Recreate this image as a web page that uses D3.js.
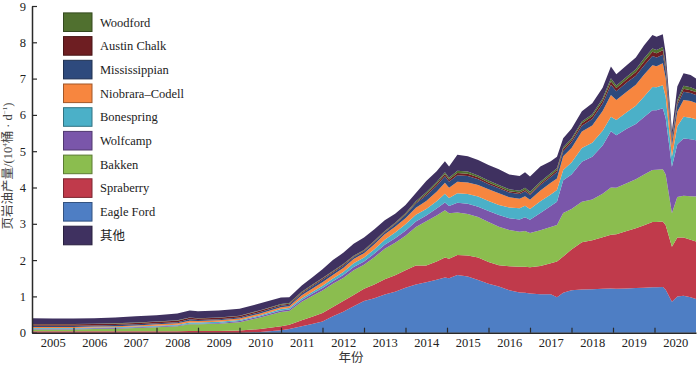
<!DOCTYPE html>
<html><head><meta charset="utf-8">
<script src="https://cdn.jsdelivr.net/npm/d3@7"></script>
<style>
body{margin:0;background:#fff;}
svg text{font-family:"Liberation Serif","Times New Roman","DejaVu Serif","Noto Sans CJK SC",serif !important;}
</style></head>
<body><svg id="c" width="700" height="366"></svg>
<script>
// decimal-year dates
const dates = [2005.0,2005.5,2006.0,2006.5,2007.0,2007.5,2008.0,2008.5,2008.8,2009.0,2009.5,2010.0,2010.5,2011.0,2011.2,2011.5,2011.75,2012.0,2012.25,2012.5,2012.75,2013.0,2013.25,2013.5,2013.75,2014.0,2014.25,2014.5,2014.75,2014.95,2015.05,2015.25,2015.5,2015.75,2016.0,2016.25,2016.5,2016.75,2016.88,2017.0,2017.25,2017.5,2017.65,2017.8,2018.0,2018.25,2018.5,2018.75,2018.95,2019.08,2019.33,2019.55,2019.75,2019.95,2020.05,2020.2,2020.27,2020.42,2020.55,2020.7,2020.87,2021.0];

const eagleFord   = [0,0,0,0,0,0,0,0,0,0,0,0,.02,.07,.10,.18,.24,.31,.45,.58,.73,.87,.95,1.05,1.13,1.24,1.33,1.39,1.46,1.52,1.50,1.59,1.55,1.45,1.35,1.27,1.17,1.11,1.10,1.08,1.06,1.06,.98,1.10,1.17,1.19,1.20,1.21,1.22,1.21,1.22,1.23,1.24,1.25,1.25,1.26,1.18,.85,1.00,1.02,.98,.93];
const spraberry   = [.04,.04,.04,.04,.04,.04,.04,.04,.05,.05,.05,.06,.08,.11,.12,.16,.20,.23,.26,.29,.31,.34,.38,.42,.45,.48,.52,.46,.50,.55,.54,.55,.58,.62,.60,.59,.66,.71,.72,.72,.78,.85,.98,1.00,1.12,1.30,1.35,1.42,1.48,1.50,1.58,1.65,1.72,1.80,1.80,1.80,1.78,1.52,1.62,1.60,1.58,1.58];
const bakken      = [.05,.05,.05,.06,.07,.09,.11,.14,.18,.18,.20,.23,.32,.39,.38,.51,.57,.62,.64,.64,.68,.66,.75,.84,.90,.95,1.06,1.22,1.27,1.30,1.25,1.17,1.14,1.12,1.10,1.06,1.00,.96,.98,.95,.98,1.00,1.01,1.20,1.12,1.12,1.12,1.20,1.30,1.28,1.32,1.35,1.40,1.43,1.44,1.44,1.40,.92,1.12,1.15,1.20,1.24];
const wolfcamp    = [.02,.02,.02,.02,.02,.02,.02,.02,.02,.02,.02,.03,.03,.04,.04,.05,.06,.07,.07,.08,.09,.09,.10,.11,.12,.14,.15,.16,.19,.22,.20,.27,.28,.28,.30,.32,.32,.34,.38,.36,.48,.58,.64,.90,.95,1.10,1.18,1.33,1.55,1.45,1.50,1.52,1.58,1.65,1.64,1.68,1.55,1.28,1.45,1.58,1.57,1.55];
const bonespring  = [.02,.02,.02,.02,.02,.02,.02,.02,.03,.03,.03,.03,.03,.04,.04,.05,.05,.06,.07,.08,.10,.11,.12,.14,.16,.18,.19,.18,.20,.24,.22,.26,.27,.28,.28,.28,.30,.31,.32,.30,.32,.32,.32,.28,.33,.38,.38,.40,.40,.42,.45,.50,.57,.64,.63,.64,.58,.28,.50,.60,.59,.58];
const niobrara    = [.03,.03,.03,.03,.03,.03,.04,.04,.05,.04,.04,.04,.05,.05,.05,.08,.09,.10,.10,.11,.12,.12,.14,.15,.16,.16,.19,.22,.26,.30,.28,.32,.32,.32,.32,.32,.28,.26,.26,.25,.30,.32,.32,.38,.40,.45,.48,.55,.60,.55,.57,.58,.60,.60,.58,.60,.52,.30,.40,.46,.46,.45];
const mississippian=[.03,.03,.03,.03,.03,.03,.03,.03,.04,.03,.03,.03,.04,.04,.04,.05,.06,.07,.06,.06,.05,.05,.05,.05,.07,.09,.12,.15,.17,.18,.17,.18,.18,.16,.14,.14,.13,.13,.14,.13,.15,.16,.18,.14,.15,.16,.18,.20,.28,.24,.25,.25,.25,.25,.24,.24,.21,.13,.18,.23,.22,.22];
const austinChalk = [.04,.04,.04,.04,.04,.04,.04,.04,.04,.04,.04,.04,.04,.03,.03,.03,.03,.03,.03,.03,.02,.02,.02,.02,.02,.02,.03,.04,.05,.06,.06,.06,.06,.05,.05,.04,.04,.04,.04,.04,.04,.05,.05,.06,.06,.07,.07,.08,.10,.09,.09,.10,.11,.12,.12,.12,.10,.05,.07,.08,.08,.08];
const woodford    = [.01,.01,.01,.01,.01,.01,.01,.01,.01,.01,.01,.01,.01,.02,.02,.02,.02,.02,.02,.02,.02,.02,.02,.02,.02,.03,.03,.05,.05,.05,.05,.06,.06,.05,.05,.05,.05,.05,.05,.05,.05,.05,.05,.05,.05,.05,.06,.06,.08,.07,.07,.08,.09,.09,.09,.09,.08,.04,.07,.08,.08,.07];
const other       = [.16,.15,.15,.15,.16,.17,.17,.19,.19,.19,.19,.19,.19,.18,.16,.17,.20,.24,.30,.31,.33,.34,.32,.30,.25,.23,.23,.31,.30,.30,.31,.44,.42,.43,.43,.43,.41,.41,.43,.42,.42,.33,.32,.25,.27,.28,.30,.30,.32,.31,.32,.32,.36,.37,.36,.35,.30,.18,.37,.35,.34,.30];

const seriesNames = ["Eagle Ford","Spraberry","Bakken","Wolfcamp","Bonespring","Niobrara–Codell","Mississippian","Austin Chalk","Woodford","其他"];
const seriesValues = [eagleFord,spraberry,bakken,wolfcamp,bonespring,niobrara,mississippian,austinChalk,woodford,other];
const seriesColors = ["#4e7ec4","#c03a4b","#8bbd4f","#7a56aa","#4bb0c8","#f7863f","#2e4a7d","#6e1e22","#50702f","#3f3160"];
const legendOrder = ["Woodford","Austin Chalk","Mississippian","Niobrara–Codell","Bonespring","Wolfcamp","Bakken","Spraberry","Eagle Ford","其他"];
const yTicks = [0,1,2,3,4,5,6,7,8,9];
const xYears = [2005,2006,2007,2008,2009,2010,2011,2012,2013,2014,2015,2016,2017,2018,2019,2020];

const FONT = '"Liberation Serif","Times New Roman","DejaVu Serif","Noto Sans CJK SC",serif';
const rows = dates.map((d,i)=>{const r={date:d};seriesNames.forEach((n,j)=>r[n]=seriesValues[j][i]);return r;});

const svg = d3.select("#c");
const x = d3.scaleLinear().domain([2005,2021]).range([32,696]);
const y = d3.scaleLinear().domain([0,9]).range([332.7,6]);
const color = d3.scaleOrdinal().domain(seriesNames).range(seriesColors);

const stack = d3.stack().keys(seriesNames);
const layers = stack(rows);
const area = d3.area().x(d=>x(d.data.date)).y0(d=>y(d[0])).y1(d=>y(d[1]));
svg.append("g").selectAll("path").data(layers).join("path")
  .attr("d",area).attr("fill",d=>color(d.key));

// y axis
const ya = svg.append("g").attr("transform","translate(32,0)")
  .call(d3.axisLeft(y).tickValues(yTicks).tickFormat(d3.format("d")).tickSizeInner(-5).tickSizeOuter(0).tickPadding(6));
// x axis ticks (inward, at year boundaries)
const xt = svg.append("g").attr("transform","translate(0,332.7)")
  .call(d3.axisBottom(x).tickValues(xYears.slice(1)).tickFormat("").tickSizeInner(-5).tickSizeOuter(0));
// x labels centred in each year
const xl = svg.append("g").attr("transform","translate(0,332.7)")
  .call(d3.axisBottom(x).tickValues(xYears.map(v=>v+0.5)).tickFormat(d=>String(Math.floor(d))).tickSize(0).tickPadding(5));
xl.select(".domain").remove();
[ya,xt,xl].forEach(g=>{
  g.attr("font-family",FONT);
  g.selectAll("text").attr("font-size",12.5).attr("fill","#222");
  g.selectAll("line").attr("stroke","#2a2a2a").attr("stroke-width",1.2);
  g.select(".domain").attr("stroke","#2a2a2a").attr("stroke-width",1.5);
});

// axis titles
svg.append("text").attr("x",351).attr("y",362).attr("text-anchor","middle")
  .attr("font-family",FONT).attr("font-size",12.5).attr("fill","#333").text("年份");
const yt = svg.append("text").attr("transform","translate(12,166) rotate(-90)")
  .attr("font-family",FONT).attr("text-anchor","middle").attr("font-size",12.5).attr("fill","#444");
yt.append("tspan").text("页岩油产量/(10");
yt.append("tspan").attr("font-size",7).attr("dy",-5).text("4");
yt.append("tspan").attr("dy",5).text("桶 · d");
yt.append("tspan").attr("font-size",7).attr("dy",-5).text("−1");
yt.append("tspan").attr("dy",5).text(")");

// legend
const lg = svg.append("g").attr("font-family",FONT);
legendOrder.forEach((n,i)=>{
  const cy = 22.2 + i*23.7;
  lg.append("rect").attr("x",63.5).attr("y",cy-9.3).attr("width",28.5).attr("height",18.6)
    .attr("fill",color(n)).attr("stroke",d3.color(color(n)).darker(1.2)).attr("stroke-width",1);
  lg.append("text").attr("x",100).attr("y",cy).attr("dy","0.35em")
    .attr("font-size",12.5).attr("fill","#222").text(n);
});
</script></body></html>
